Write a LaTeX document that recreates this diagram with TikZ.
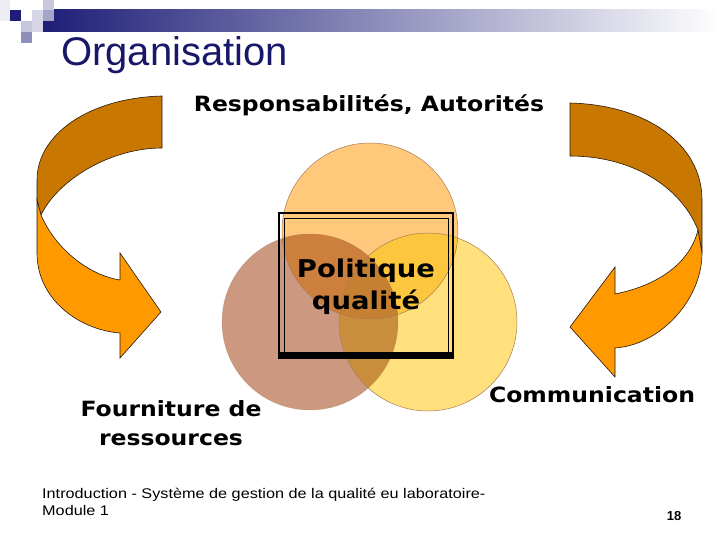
\documentclass[tikz,border=0pt]{standalone}
\usepackage{fontspec}
\setmainfont{DejaVu Sans}
\newfontfamily\widefont[FakeStretch=1.12]{DejaVu Sans}
\newfontfamily\slidefont{Liberation Sans}
\newfontfamily\footfont[FakeStretch=1.16]{Liberation Sans}
\usetikzlibrary{positioning}

\definecolor{navy}{RGB}{30,30,120}
\definecolor{titleblue}{RGB}{24,24,104}
\definecolor{barmid}{RGB}{178,178,204}
\definecolor{arrowdark}{RGB}{200,120,0}
\definecolor{arrowlight}{RGB}{255,153,0}
\definecolor{topfill}{RGB}{255,200,122}
\definecolor{leftfill}{RGB}{204,153,128}
\definecolor{rightfill}{RGB}{255,224,124}
\definecolor{tlfill}{RGB}{205,128,62}
\definecolor{trfill}{RGB}{252,198,62}
\definecolor{lrfill}{RGB}{200,142,62}
\definecolor{allfill}{RGB}{198,128,50}
\definecolor{rimline}{RGB}{165,125,85}

\begin{document}
\begin{tikzpicture}[x=1pt, y=-1pt]
    \tikzset{
      label/.style={font=\widefont\bfseries\fontsize{21}{29}\selectfont, inner sep=0pt},
      band/.style={draw=black!80!brown, line width=0.6pt},
      rim/.style={draw=rimline, line width=0.5pt}
    }
    \useasboundingbox (0,0) rectangle (720,540);

    % title bar and squares
    \shade[left color=navy, middle color=barmid, right color=white] (43,10) rectangle (720,32);
    \fill[navy!8] (0,0) rectangle (10,21);
    \fill[navy] (10,10) rectangle (21,21);
    \fill[navy!25] (43,0) rectangle (54,10);
    \fill[navy!18] (32,10) rectangle (43,21);
    \fill[navy!40] (43,10) rectangle (54,21);
    \fill[navy!25] (21,21) rectangle (32,32);
    \fill[navy!18] (32,21) rectangle (43,32);
    \fill[navy!50] (21,32) rectangle (32,43);

    \node[anchor=west, text=titleblue, font=\slidefont\fontsize{40}{44}\selectfont, inner sep=0pt]
      (title) at (61,55) {Organisation};

    % circles
    \coordinate (ctop) at (370,231);
    \coordinate (cleft) at (310,322);
    \coordinate (cright) at (428,322);
    \fill[topfill] (ctop) circle (88);
    \fill[leftfill] (cleft) circle (88);
    \fill[rightfill] (cright) circle (89);
    \begin{scope}
      \clip (ctop) circle (88);
      \fill[tlfill] (cleft) circle (88);
      \fill[trfill] (cright) circle (89);
    \end{scope}
    \begin{scope}
      \clip (cleft) circle (88);
      \fill[lrfill] (cright) circle (89);
      \clip (ctop) circle (88);
      \fill[allfill] (cright) circle (89);
    \end{scope}
    \draw[rim] (ctop) circle (88);
    \draw[rim, draw opacity=0.4] (cleft) circle (88);
    \draw[rim] (cright) circle (89);

    % frame round the centre text
    \draw[line width=1.3pt] (279,213) rectangle (453,358);
    \draw[line width=0.9pt] (284,218) rectangle (448,352);
    \fill (279,352) rectangle (453,358);

    \node[label, font=\widefont\bfseries\fontsize{24.5}{32}\selectfont, align=center] (politique) at (366,287) {Politique\\qualité};

    % curved arrows
    \draw[band, fill=arrowdark] (162,96) .. controls (88,98) and (37,135) .. (37,180)
      -- (37,200) -- (41,215) .. controls (58,180) and (110,148) .. (162,148) -- cycle;
    \draw[band, fill=arrowlight] (37,200) -- (37,253) .. controls (37,300) and (80,330) .. (120,333)
      -- (120,358) -- (161,312) -- (120,253) -- (120,280)
      .. controls (88,275) and (55,248) .. (41,215) -- cycle;
    \draw[band, fill=arrowdark] (570,103) .. controls (648,105) and (702,145) .. (702,200)
      -- (702,253) -- (698,230) .. controls (680,185) and (630,156) .. (570,156) -- cycle;
    \draw[band, fill=arrowlight] (702,253) .. controls (702,300) and (660,345) .. (615,348)
      -- (615,377) -- (570,327) -- (615,267) -- (615,294)
      .. controls (660,285) and (690,262) .. (698,230) -- cycle;

    % labels
    \node[label] (resp) at (369,105) {Responsabilités, Autorités};
    \node[label, align=center] (fourn) at (171,423) {Fourniture de\\ressources};
    \node[label] (comm) at (592,395) {Communication};

    % footer
    \node[anchor=west, align=left, inner sep=0pt, font=\footfont\fontsize{14}{17}\selectfont]
      (footer) at (42,502) {Introduction - Système de gestion de la qualité eu laboratoire-\\Module 1};
    \node[font=\slidefont\bfseries\fontsize{13}{14}\selectfont, inner sep=0pt] (page) at (674,516) {18};
\end{tikzpicture}
\end{document}
